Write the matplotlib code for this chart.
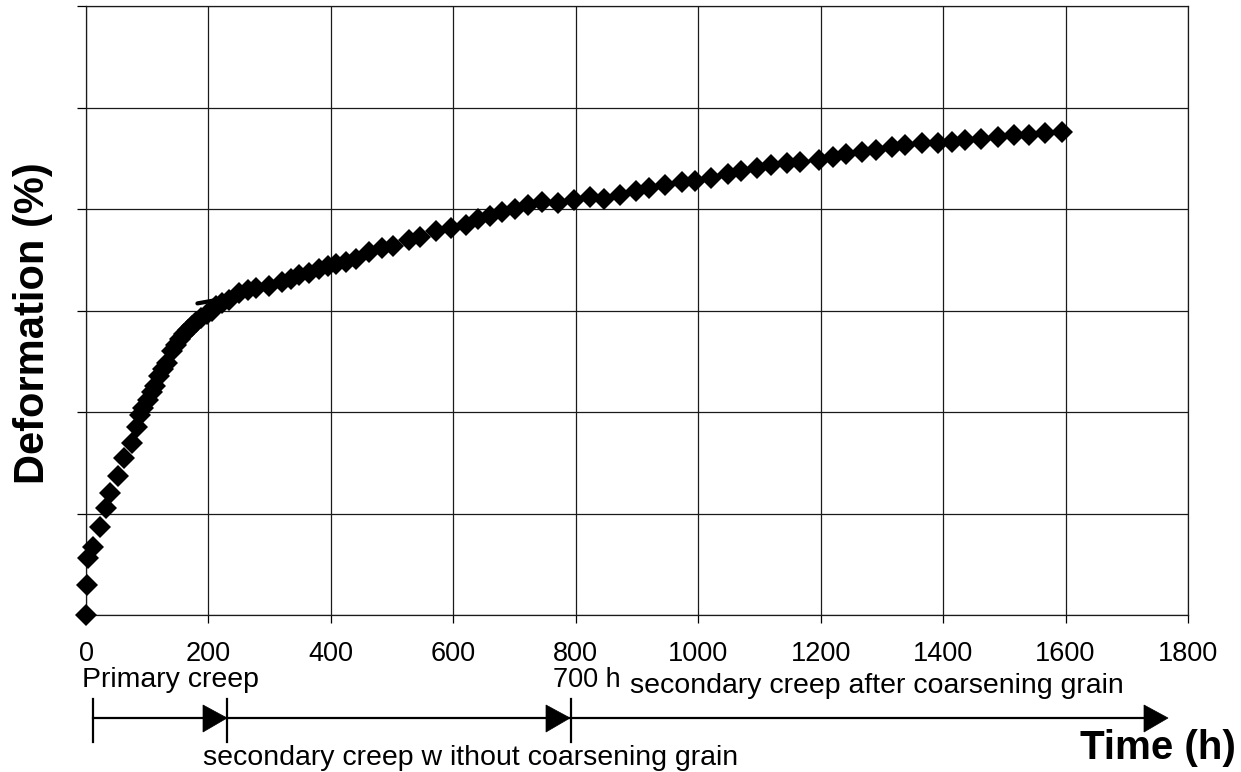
import matplotlib
matplotlib.use("Agg")
import matplotlib.pyplot as plt
from matplotlib import patches
from matplotlib.lines import Line2D

plt.rcParams["font.family"] = ["Liberation Sans", "DejaVu Sans"]

# creep test readings (time in h, deformation in grid units of the scan)
time_h = [0, 2, 4, 11, 23, 33, 39, 52, 62, 75, 83, 88, 93, 101, 107, 112, 120,
          126, 132, 141, 147, 153, 160, 166, 173, 180, 188, 197, 205, 213, 222,
          234, 250, 265, 278, 299, 320, 335, 348, 365, 380, 395, 408, 425, 441,
          462, 483, 502, 527, 546, 571, 597, 621, 641, 660, 680, 700, 722, 745,
          771, 797, 823, 846, 872, 898, 920, 946, 974, 995, 1021, 1049, 1070,
          1096, 1119, 1145, 1167, 1198, 1220, 1242, 1268, 1291, 1317, 1338,
          1366, 1392, 1414, 1436, 1462, 1489, 1515, 1541, 1567, 1595]
deform = [0.00, 0.30, 0.56, 0.67, 0.87, 1.05, 1.20, 1.37, 1.55, 1.69, 1.85,
          1.97, 2.04, 2.12, 2.20, 2.26, 2.35, 2.42, 2.48, 2.60, 2.66, 2.72,
          2.77, 2.81, 2.85, 2.89, 2.93, 2.97, 3.00, 3.04, 3.07, 3.10, 3.17,
          3.20, 3.22, 3.24, 3.28, 3.31, 3.35, 3.37, 3.41, 3.44, 3.46, 3.48,
          3.51, 3.58, 3.62, 3.64, 3.69, 3.72, 3.78, 3.81, 3.84, 3.90, 3.93,
          3.97, 4.00, 4.04, 4.07, 4.06, 4.09, 4.12, 4.10, 4.14, 4.18, 4.21,
          4.24, 4.27, 4.28, 4.31, 4.34, 4.37, 4.40, 4.43, 4.45, 4.46, 4.48,
          4.51, 4.54, 4.56, 4.58, 4.61, 4.63, 4.65, 4.65, 4.66, 4.68, 4.69,
          4.71, 4.73, 4.73, 4.75, 4.76]

# short stray stroke near the primary/secondary transition
hook_t = [182, 210, 242]
hook_d = [3.07, 3.10, 3.16]

x_ticks = [0, 200, 400, 600, 800, 1000, 1200, 1400, 1600, 1800]
y_ticks = [0, 1, 2, 3, 4, 5, 6]

W, H = 1241, 772


def px(x, y):
    """pixel position of the scan -> figure fraction"""
    return x / W, 1 - y / H


fig = plt.figure(figsize=(W / 100, H / 100), dpi=100)
ax = fig.add_axes([86 / W, 1 - 615 / H, (1188 - 86) / W, (615 - 6) / H])

ax.plot(time_h, deform, linestyle="none", marker="D", markersize=11.5,
        color="black", markeredgewidth=0, clip_on=False, zorder=3)
ax.plot(hook_t, hook_d, color="black", lw=3.0, solid_capstyle="round", zorder=3)

ax.set_xlim(0, 1800)
ax.set_ylim(0, 6)
ax.set_xticks(x_ticks)
ax.set_yticks(y_ticks)
ax.set_yticklabels([])
ax.grid(True, color="#1a1a1a", linewidth=0.9)
ax.set_axisbelow(True)
for sp in ax.spines.values():
    sp.set_color("#1a1a1a")
    sp.set_linewidth(0.9)
ax.tick_params(axis="x", direction="out", length=6, width=0.9, pad=13,
               labelsize=19.5)
ax.tick_params(axis="y", direction="out", length=6.5, width=0.9)

fig.text(*px(33, 323), "Deformation (%)", fontsize=30, fontweight="bold",
         rotation=90, ha="center", va="center")

# phase timeline below the axis
y_line = 718
line = Line2D([px(93, 0)[0], px(1150, 0)[0]], [px(0, y_line)[1]] * 2,
              transform=fig.transFigure, color="black", lw=1.6)
fig.add_artist(line)
for bx in (93, 227, 571):
    fig.add_artist(Line2D([px(bx, 0)[0]] * 2, [px(0, 699)[1], px(0, 742)[1]],
                          transform=fig.transFigure, color="black", lw=1.6))
for tip in (227, 570, 1168):
    tri = patches.Polygon([px(tip, y_line), px(tip - 24, 705), px(tip - 24, 732)],
                          closed=True, transform=fig.transFigure,
                          facecolor="black", edgecolor="black", lw=0.5)
    fig.add_artist(tri)

fig.text(*px(82, 680), "Primary creep", fontsize=20.5, ha="left", va="center")
fig.text(*px(553, 680), "700 h", fontsize=19.5, ha="left", va="center")
fig.text(*px(630, 686), "secondary creep after coarsening grain", fontsize=20.5,
         ha="left", va="center")
fig.text(*px(203, 758), "secondary creep w ithout coarsening grain", fontsize=20.5,
         ha="left", va="center")
fig.text(*px(1236, 748), "Time (h)", fontsize=29, fontweight="bold",
         ha="right", va="center")

fig.savefig("out.png", dpi=100)
